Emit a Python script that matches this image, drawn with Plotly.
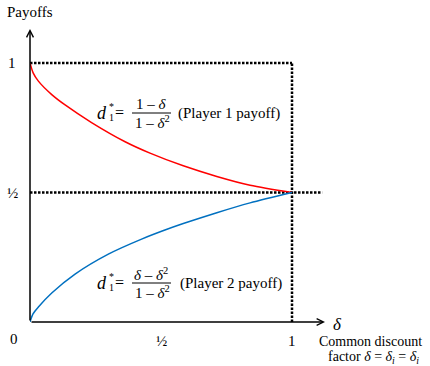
import plotly.graph_objects as go

# ---- data ----
delta_p1 = [0, 0.012, 0.032, 0.083, 0.134, 0.235, 0.363, 0.458, 0.585, 0.713, 0.84, 1.0]
payoff_p1 = [1.0, 0.962, 0.93, 0.878, 0.838, 0.77, 0.696, 0.652, 0.603, 0.562, 0.528, 0.5]
delta_p2 = [0, 0.012, 0.032, 0.083, 0.172, 0.299, 0.426, 0.515, 0.585, 0.713, 0.84, 1.0]
payoff_p2 = [0, 0.032, 0.058, 0.112, 0.185, 0.262, 0.32, 0.355, 0.38, 0.422, 0.46, 0.5]

top_level_x = [0, 1]; top_level_y = [1, 1]
vert_x = [1, 1]; vert_y = [0, 1]
half_x = [0, 1.115]; half_y = [0.5, 0.5]

y_tick_vals = [1, 0.5]; y_tick_text = ["1", "½"]
x_tick_vals = [0.5, 1]; x_tick_text = ["½", "1"]

# ---- layout geometry ----
W, H = 430, 366
L, R, T, B = 30, 105, 29, 44
PX_PER_X = 262.0
PX_PER_Y = 259.0
x_max = (W - L - R) / PX_PER_X
y_max = (H - T - B) / PX_PER_Y

def px_paper(px):
    return (px - L) / (W - L - R)

def py_paper(py):
    return (H - B - py) / (H - T - B)

FONT = "Liberation Serif"
fig = go.Figure()

dot = dict(color="black", width=2.5, dash="2.5px,1.5px")
fig.add_trace(go.Scatter(x=top_level_x, y=top_level_y, mode="lines", line=dot, hoverinfo="skip"))
fig.add_trace(go.Scatter(x=vert_x, y=vert_y, mode="lines", line=dot, hoverinfo="skip"))
fig.add_trace(go.Scatter(x=half_x, y=half_y, mode="lines", line=dot, hoverinfo="skip"))

fig.add_trace(go.Scatter(x=delta_p1, y=payoff_p1, mode="lines",
                         line=dict(color="#ff0000", width=1.5, shape="spline", smoothing=0.8), hoverinfo="skip"))
fig.add_trace(go.Scatter(x=delta_p2, y=payoff_p2, mode="lines",
                         line=dict(color="#0070C0", width=1.5, shape="spline", smoothing=0.8), hoverinfo="skip"))

ann = []
# axes with arrows
ann.append(dict(x=x_max, y=0, ax=0, ay=0, axref="x", ayref="y", xref="x", yref="y",
                showarrow=True, arrowhead=5, arrowsize=0.9, arrowwidth=1.5, arrowcolor="black", text=""))
ann.append(dict(x=0, y=y_max, ax=0, ay=0, axref="x", ayref="y", xref="x", yref="y",
                showarrow=True, arrowhead=5, arrowsize=0.9, arrowwidth=1.5, arrowcolor="black", text=""))

def txt(px, py, s, size=15, xanchor="center", italic=False):
    if italic:
        s = "<i>" + s + "</i>"
    ann.append(dict(x=px_paper(px), y=py_paper(py), xref="paper", yref="paper", text=s, showarrow=False,
                    xanchor=xanchor, yanchor="middle", borderpad=0,
                    font=dict(family=FONT, size=size, color="black")))

# tick labels
for v, t in zip(y_tick_vals, y_tick_text):
    ann.append(dict(x=0, y=v, xref="x", yref="y", text=t, showarrow=False, xshift=-18,
                    font=dict(family=FONT, size=15, color="black")))
for v, t in zip(x_tick_vals, x_tick_text):
    ann.append(dict(x=v, y=0, xref="x", yref="y", text=t, showarrow=False, yshift=-19,
                    font=dict(family=FONT, size=15, color="black")))
ann.append(dict(x=0, y=0, xref="x", yref="y", text="0", showarrow=False, xshift=-16, yshift=-17,
                font=dict(family=FONT, size=15, color="black")))

txt(30, 12, "Payoffs", 15)
txt(337, 324, "δ", 17, italic=True)
txt(370, 341, "Common discount", 14)
txt(373, 357, "factor <i>δ</i> = <i>δ<sub>i</sub></i> = <i>δ<sub>i</sub></i>", 14)

shapes = []
def formula(yc, num):
    txt(102, yc, "d", 18, italic=True)
    txt(111, yc - 7, "*", 10)
    txt(111, yc + 4, "1", 10)
    txt(119, yc - 1, "=", 16)
    txt(151, yc - 9, num, 15)
    txt(152, yc + 9, "1 – <i>δ</i><sup>2</sup>", 15)
    shapes.append(dict(type="line", xref="paper", yref="paper", x0=px_paper(132), x1=px_paper(171),
                       y0=py_paper(yc), y1=py_paper(yc), line=dict(color="black", width=1)))

formula(113, "1 – <i>δ</i>")
txt(177, 113, "(Player 1 payoff)", 15, xanchor="left")
formula(283, "<i>δ</i> – <i>δ</i><sup>2</sup>")
txt(179, 283, "(Player 2 payoff)", 15, xanchor="left")

fig.update_layout(
    width=W, height=H, margin=dict(l=L, r=R, t=T, b=B),
    paper_bgcolor="white", plot_bgcolor="white", showlegend=False,
    xaxis=dict(range=[0, x_max], visible=False, fixedrange=True),
    yaxis=dict(range=[0, y_max], visible=False, fixedrange=True),
    annotations=ann, shapes=shapes,
)
fig.write_html("out.html", post_script="document.body.style.margin='0';",
               config={"displayModeBar": False})
